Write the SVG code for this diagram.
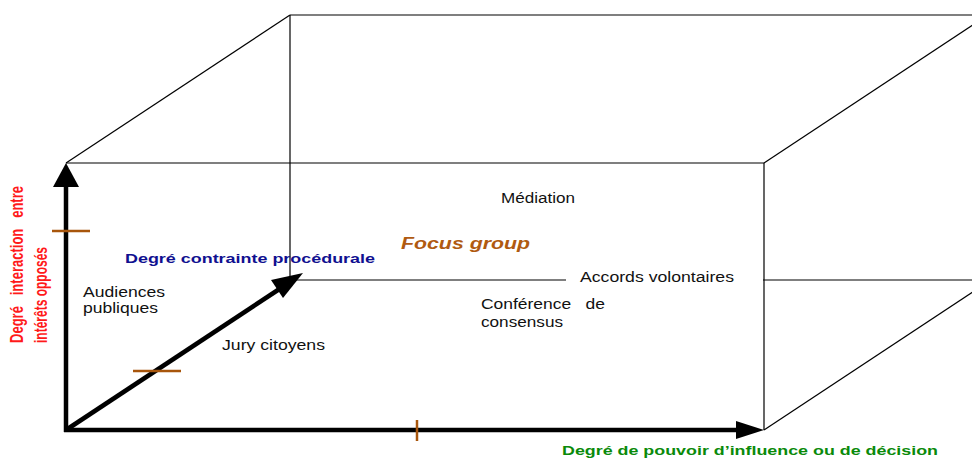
<svg xmlns="http://www.w3.org/2000/svg" width="972" height="460" viewBox="0 0 972 460">
<style>
.edge{stroke:#000;stroke-width:1.2;fill:none}
.axis{stroke:#000;stroke-width:4.5;fill:none}
.tick{stroke:#a8560c;stroke-width:2.5;fill:none}
.lbl{font-family:"Liberation Sans",Arial,sans-serif;font-size:14px;fill:#111;white-space:pre}
.blue{font-family:"Liberation Sans",Arial,sans-serif;font-size:13px;font-weight:bold;fill:#101090}
.green{font-family:"Liberation Sans",Arial,sans-serif;font-size:13px;font-weight:bold;fill:#0a8a0a}
.brown{font-family:"Liberation Sans",Arial,sans-serif;font-size:16px;font-weight:bold;font-style:italic;fill:#b05a10}
.red{font-family:"Liberation Sans",Arial,sans-serif;font-size:18px;font-weight:bold;fill:#ff1a1a;white-space:pre}
</style>
<rect width="972" height="460" fill="#fff"/>
<g id="box">
<line class="edge" x1="290" y1="15" x2="990" y2="15"/>
<line class="edge" x1="290" y1="15" x2="290" y2="280"/>
<line class="edge" x1="290" y1="280" x2="990" y2="280"/>
<line class="edge" x1="66" y1="163" x2="290" y2="15"/>
<line class="edge" x1="764" y1="163" x2="988" y2="15"/>
<line class="edge" x1="764" y1="430" x2="988" y2="282"/>
<line class="edge" x1="66" y1="163" x2="764" y2="163"/>
<line class="edge" x1="764" y1="163" x2="764" y2="430"/>
</g>
<g id="connectors">
<line class="axis" x1="66" y1="432" x2="66" y2="182"/>
<polygon points="66,163 53,187 79,187" fill="#000"/>
<line class="axis" x1="64" y1="430" x2="740" y2="430"/>
<polygon points="764,430 736,421 736,439" fill="#000"/>
<line class="axis" x1="66" y1="430" x2="284" y2="286"/>
<polygon points="303,273 271,280 283,298" fill="#000"/>
</g>
<g id="ticks">
<line class="tick" x1="52" y1="231" x2="90" y2="231"/>
<line class="tick" x1="133" y1="371" x2="181" y2="371"/>
<line class="tick" x1="417" y1="420" x2="417" y2="441"/>
</g>
<g id="mediation"><text class="lbl" x="501" y="203" textLength="74" lengthAdjust="spacingAndGlyphs">Médiation</text></g>
<g id="focus-group"><text class="brown" x="401" y="249" textLength="129" lengthAdjust="spacingAndGlyphs">Focus group</text></g>
<g id="accords">
<rect x="566" y="268" width="197" height="22" fill="#fff"/>
<text class="lbl" x="580" y="282" textLength="154" lengthAdjust="spacingAndGlyphs">Accords volontaires</text>
</g>
<g id="conference">
<text class="lbl" xml:space="preserve" x="481" y="309" textLength="124" lengthAdjust="spacingAndGlyphs">Conférence   de</text>
<text class="lbl" x="481" y="327" textLength="82" lengthAdjust="spacingAndGlyphs">consensus</text>
</g>
<g id="audiences">
<text class="lbl" x="83" y="297" textLength="82" lengthAdjust="spacingAndGlyphs">Audiences</text>
<text class="lbl" x="83" y="313" textLength="75" lengthAdjust="spacingAndGlyphs">publiques</text>
</g>
<g id="jury"><text class="lbl" x="222" y="350" textLength="103" lengthAdjust="spacingAndGlyphs">Jury citoyens</text></g>
<g id="axis-z-label"><text class="blue" x="125" y="263" textLength="250" lengthAdjust="spacingAndGlyphs">Degré contrainte procédurale</text></g>
<g id="axis-x-label"><text class="green" x="562" y="455" textLength="376" lengthAdjust="spacingAndGlyphs">Degré de pouvoir d’influence ou de décision</text></g>
<g id="axis-y-label">
<text class="red" xml:space="preserve" transform="translate(23,343) rotate(-90)" x="0" y="0" textLength="157" lengthAdjust="spacingAndGlyphs">Degré   interaction   entre</text>
<text class="red" transform="translate(47,343) rotate(-90)" x="0" y="0" textLength="96" lengthAdjust="spacingAndGlyphs">intérêts opposés</text>
</g>
</svg>
